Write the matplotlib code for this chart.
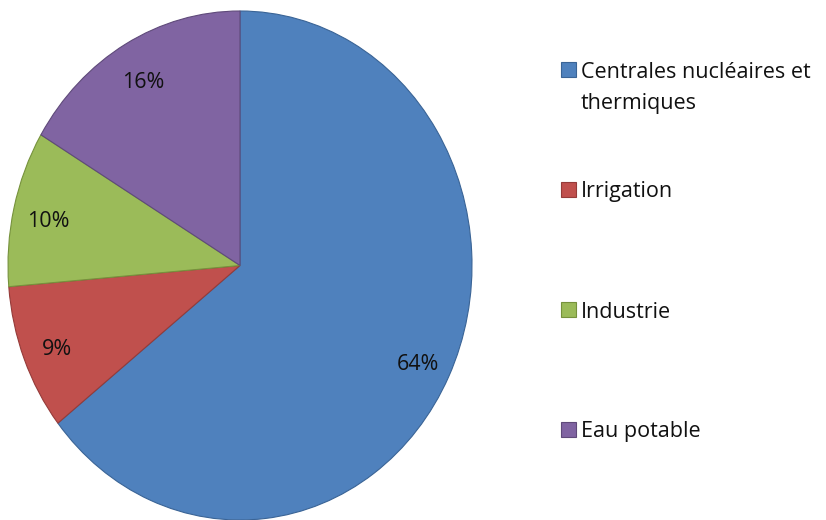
import matplotlib
matplotlib.use("Agg")
import matplotlib.pyplot as plt
from matplotlib.patches import Rectangle
import matplotlib.transforms as mtransforms
import numpy as np

categories = ["Centrales nucléaires et\nthermiques", "Irrigation", "Industrie", "Eau potable"]
values = [64.3, 9.3, 9.9, 16.4]
pct_labels = ["64%", "9%", "10%", "16%"]
colors = ["#4F81BD", "#C0504D", "#9BBB59", "#8064A2"]
edge_colors = ["#3A6496", "#953B39", "#76923C", "#5F4A7A"]

plt.rcParams['font.family'] = ['Open Sans', 'DejaVu Sans']

W, H = 826, 520
fig = plt.figure(figsize=(W / 100, H / 100), dpi=100)
fig.patch.set_facecolor("white")

# pie axes (elliptical, stretched as in reference)
left, right, top, bottom = 8, 472, 11, 520
ax = fig.add_axes([left / W, (H - bottom) / H, (right - left) / W, (bottom - top) / H])
wedges, _ = ax.pie(values, colors=colors, startangle=90, counterclock=False,
                   wedgeprops=dict(linewidth=0.8))
for w, ec in zip(wedges, edge_colors):
    w.set_edgecolor(ec)
ax.set_aspect('auto')
ax.set_xlim(-1, 1)
ax.set_ylim(-1, 1)
ax.axis('off')

lab_tr = ax.transData + mtransforms.ScaledTranslation(0, -5 / 100, fig.dpi_scale_trans)
for w, lab in zip(wedges, pct_labels):
    ang = np.deg2rad((w.theta1 + w.theta2) / 2)
    r = 0.85
    ax.text(r * np.cos(ang), r * np.sin(ang), lab, ha='center', va='center',
            fontsize=15.5, color='#111111', transform=lab_tr)

# manual legend
legend_y = [69, 189, 309, 429]
for cat, col, ec, y in zip(categories, colors, edge_colors, legend_y):
    s = 15
    fig.patches.append(Rectangle((561 / W, (H - y - s / 2) / H), s / W, s / H,
                                 transform=fig.transFigure, facecolor=col,
                                 edgecolor=ec, linewidth=0.8))
    lines = cat.split("\n")
    for i, ln in enumerate(lines):
        fig.text(581 / W, (H - (y + 3 + i * 32)) / H, ln, ha='left', va='center',
                 fontsize=15.5, color='#111111')

fig.savefig("out.png", dpi=100)
